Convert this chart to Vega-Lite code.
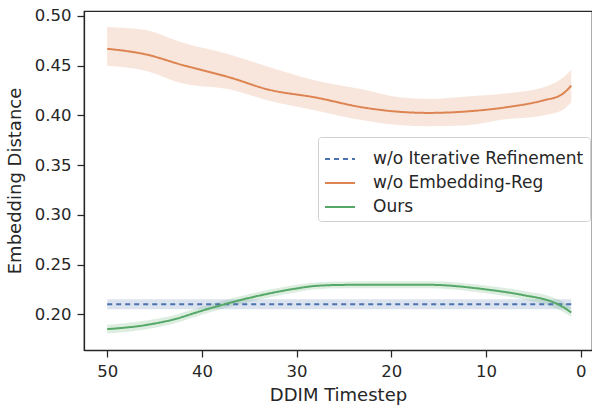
{
  "$schema": "https://vega.github.io/schema/vega-lite/v6.json",
  "width": 508,
  "height": 339,
  "autosize": "none",
  "padding": {"left": 84, "top": 11, "right": 0, "bottom": 55},
  "background": "white",
  "config": {
    "font": "DejaVu Sans",
    "view": {"stroke": "#262626", "strokeWidth": 1.25},
    "axis": {
      "grid": false,
      "domainColor": "#262626",
      "domainWidth": 1.25,
      "tickColor": "#262626",
      "tickWidth": 1.25,
      "tickSize": 7,
      "labelColor": "#262626",
      "labelFont": "DejaVu Sans",
      "labelFontSize": 16.5,
      "labelPadding": 6,
      "titleColor": "#262626",
      "titleFont": "DejaVu Sans",
      "titleFontSize": 18,
      "titleFontWeight": "normal"
    },
    "legend": {
      "labelFont": "DejaVu Sans",
      "labelFontSize": 17,
      "labelColor": "#262626",
      "labelLimit": 400,
      "symbolType": "stroke",
      "symbolSize": 900,
      "symbolStrokeWidth": 2,
      "symbolOpacity": 1,
      "labelOffset": 17,
      "rowPadding": -5,
      "padding": 6,
      "strokeColor": "#d0d0d0",
      "fillColor": "white",
      "cornerRadius": 3
    }
  },
  "data": {
    "values": [
      {"t": 50, "series": "w/o Iterative Refinement", "mean": 0.21, "lo": 0.205, "hi": 0.215},
      {"t": 40, "series": "w/o Iterative Refinement", "mean": 0.21, "lo": 0.205, "hi": 0.215},
      {"t": 30, "series": "w/o Iterative Refinement", "mean": 0.21, "lo": 0.205, "hi": 0.215},
      {"t": 20, "series": "w/o Iterative Refinement", "mean": 0.21, "lo": 0.205, "hi": 0.215},
      {"t": 10, "series": "w/o Iterative Refinement", "mean": 0.21, "lo": 0.205, "hi": 0.215},
      {"t": 1, "series": "w/o Iterative Refinement", "mean": 0.21, "lo": 0.205, "hi": 0.215},
      {"t": 50, "series": "w/o Embedding-Reg", "mean": 0.467, "lo": 0.450, "hi": 0.489},
      {"t": 46, "series": "w/o Embedding-Reg", "mean": 0.4615, "lo": 0.445, "hi": 0.486},
      {"t": 42, "series": "w/o Embedding-Reg", "mean": 0.4505, "lo": 0.432, "hi": 0.473},
      {"t": 37, "series": "w/o Embedding-Reg", "mean": 0.438, "lo": 0.426, "hi": 0.461},
      {"t": 33, "series": "w/o Embedding-Reg", "mean": 0.426, "lo": 0.415, "hi": 0.449},
      {"t": 28, "series": "w/o Embedding-Reg", "mean": 0.418, "lo": 0.405, "hi": 0.435},
      {"t": 23, "series": "w/o Embedding-Reg", "mean": 0.408, "lo": 0.395, "hi": 0.426},
      {"t": 19, "series": "w/o Embedding-Reg", "mean": 0.4035, "lo": 0.390, "hi": 0.418},
      {"t": 16, "series": "w/o Embedding-Reg", "mean": 0.4025, "lo": 0.389, "hi": 0.4165},
      {"t": 12, "series": "w/o Embedding-Reg", "mean": 0.404, "lo": 0.390, "hi": 0.419},
      {"t": 8, "series": "w/o Embedding-Reg", "mean": 0.408, "lo": 0.396, "hi": 0.422},
      {"t": 4, "series": "w/o Embedding-Reg", "mean": 0.415, "lo": 0.400, "hi": 0.428},
      {"t": 2, "series": "w/o Embedding-Reg", "mean": 0.421, "lo": 0.405, "hi": 0.437},
      {"t": 1, "series": "w/o Embedding-Reg", "mean": 0.430, "lo": 0.413, "hi": 0.446},
      {"t": 50, "series": "Ours", "mean": 0.185, "lo": 0.1805, "hi": 0.1895},
      {"t": 46, "series": "Ours", "mean": 0.189, "lo": 0.1845, "hi": 0.1935},
      {"t": 43, "series": "Ours", "mean": 0.1947, "lo": 0.1905, "hi": 0.199},
      {"t": 40, "series": "Ours", "mean": 0.2035, "lo": 0.1995, "hi": 0.2075},
      {"t": 35, "series": "Ours", "mean": 0.2164, "lo": 0.2125, "hi": 0.2203},
      {"t": 30, "series": "Ours", "mean": 0.2259, "lo": 0.2222, "hi": 0.2296},
      {"t": 28, "series": "Ours", "mean": 0.2285, "lo": 0.225, "hi": 0.232},
      {"t": 25, "series": "Ours", "mean": 0.2295, "lo": 0.226, "hi": 0.233},
      {"t": 20, "series": "Ours", "mean": 0.2297, "lo": 0.2262, "hi": 0.2332},
      {"t": 16, "series": "Ours", "mean": 0.2296, "lo": 0.226, "hi": 0.2332},
      {"t": 10, "series": "Ours", "mean": 0.2249, "lo": 0.221, "hi": 0.2288},
      {"t": 6, "series": "Ours", "mean": 0.2191, "lo": 0.2148, "hi": 0.2234},
      {"t": 3, "series": "Ours", "mean": 0.2124, "lo": 0.2075, "hi": 0.2173},
      {"t": 2, "series": "Ours", "mean": 0.208, "lo": 0.203, "hi": 0.213},
      {"t": 1, "series": "Ours", "mean": 0.2017, "lo": 0.1975, "hi": 0.206}
    ]
  },
  "encoding": {
    "x": {
      "field": "t",
      "type": "quantitative",
      "scale": {"domain": [52.45, -1.19], "nice": false, "zero": false},
      "axis": {"values": [50, 40, 30, 20, 10, 0], "title": "DDIM Timestep", "titlePadding": 7}
    },
    "color": {
      "field": "series",
      "type": "nominal",
      "scale": {"domain": ["w/o Iterative Refinement", "w/o Embedding-Reg", "Ours"], "range": ["#4c72b0", "#dd8452", "#55a868"]},
      "legend": {"title": null, "orient": "none", "legendX": 234, "legendY": 126, "symbolType": "stroke", "symbolOpacity": 1}
    }
  },
  "layer": [
    {
      "mark": {"type": "area", "opacity": 0.2, "interpolate": "monotone"},
      "encoding": {
        "y": {
          "field": "lo",
          "type": "quantitative",
          "scale": {"domain": [0.164, 0.505], "nice": false, "zero": false},
          "axis": {"values": [0.2, 0.25, 0.3, 0.35, 0.4, 0.45, 0.5], "format": ".2f", "title": "Embedding Distance", "titlePadding": 10}
        },
        "y2": {"field": "hi"}
      }
    },
    {
      "mark": {"type": "line", "strokeWidth": 2, "interpolate": "monotone"},
      "encoding": {
        "y": {"field": "mean", "type": "quantitative"},
        "strokeDash": {
          "field": "series",
          "type": "nominal",
          "scale": {"domain": ["w/o Iterative Refinement", "w/o Embedding-Reg", "Ours"], "range": [[5, 4], [1, 0], [1, 0]]},
          "legend": {"title": null, "orient": "none", "legendX": 234, "legendY": 126, "symbolType": "stroke", "symbolOpacity": 1}
        }
      }
    }
  ]
}
